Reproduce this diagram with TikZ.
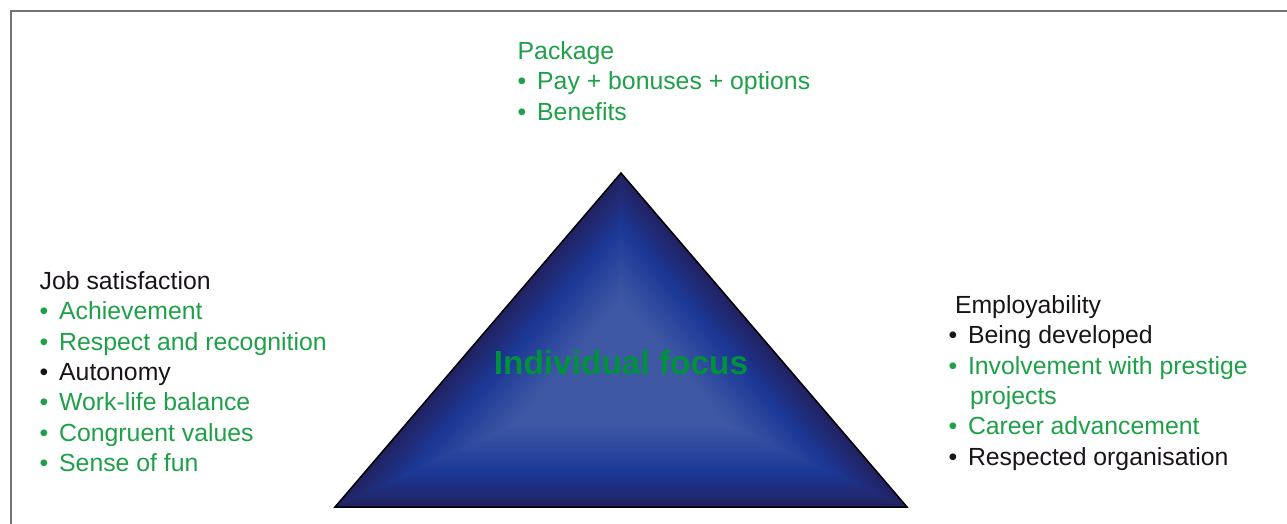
\documentclass[tikz,border=0pt]{standalone}
\usepackage{fontspec}
\setmainfont{Liberation Sans}
\usetikzlibrary{positioning,calc}

\definecolor{itemgreen}{RGB}{30,160,72}
\definecolor{focusgreen}{RGB}{0,145,60}
\definecolor{itemblack}{RGB}{25,20,25}
\definecolor{framegray}{RGB}{115,115,115}
\definecolor{trinavy}{RGB}{34,34,98}
\definecolor{triblue}{RGB}{28,56,150}
\definecolor{trilight}{RGB}{62,88,164}

\newcommand{\bul}[1]{\makebox[19.5pt][l]{•}#1}

\begin{document}
\begin{tikzpicture}[x=1pt, y=-1pt,
listnode/.style={anchor=base west, inner sep=0pt, align=left, text=itemgreen, font=\fontsize{24.8}{30.4}\selectfont},
focusnode/.style={anchor=base, inner sep=0pt, text=focusgreen, font=\fontsize{33.4}{38}\selectfont\bfseries},
]
\useasboundingbox (0,0) rectangle (1287,524);

%Frame
\draw[framegray, line width=2pt] (10.5,524) -- (10.5,11.5) -- (1287,11.5);

%Triangle
\coordinate (apex) at (621,173);
\coordinate (left) at (335,507);
\coordinate (right) at (907,507);
\coordinate (mid) at (621,375);
\foreach \i in {0,...,40}{
  \pgfmathsetmacro\t{1-\i/40}
  \ifnum\i<11 \pgfmathsetmacro\p{\i*10}\colorlet{tri}{triblue!\p!trinavy}
  \else \pgfmathsetmacro\p{min(100,(\i-10)*7)}\colorlet{tri}{trilight!\p!triblue}\fi
  \fill[tri] ($(mid)!\t!(apex)$) -- ($(mid)!\t!(left)$) -- ($(mid)!\t!(right)$) -- cycle;
}
\draw[black, line width=1.5pt] (apex) -- (left) -- (right) -- cycle;

%Nodes (anchored at the baseline of the last line)
\node[focusnode] (focus) at (621,374) {Individual focus};
\node[listnode] (package) at (517.5,120.1) {Package\\ \bul{Pay + bonuses + options}\\ \bul{Benefits}};
\node[listnode] (job) at (39.5,471.7) {\textcolor{itemblack}{Job satisfaction}\\ \bul{Achievement}\\ \bul{Respect and recognition}\\ \textcolor{itemblack}{\bul{Autonomy}}\\ \bul{Work-life balance}\\ \bul{Congruent values}\\ \bul{Sense of fun}};
\node[listnode] (employ) at (948.3,465.3) {\hspace*{6.5pt}\textcolor{itemblack}{Employability}\\ \textcolor{itemblack}{\bul{Being developed}}\\ \bul{Involvement with prestige}\\ \hspace*{21.5pt}projects\\ \bul{Career advancement}\\ \textcolor{itemblack}{\bul{Respected organisation}}};

\end{tikzpicture}
\end{document}
